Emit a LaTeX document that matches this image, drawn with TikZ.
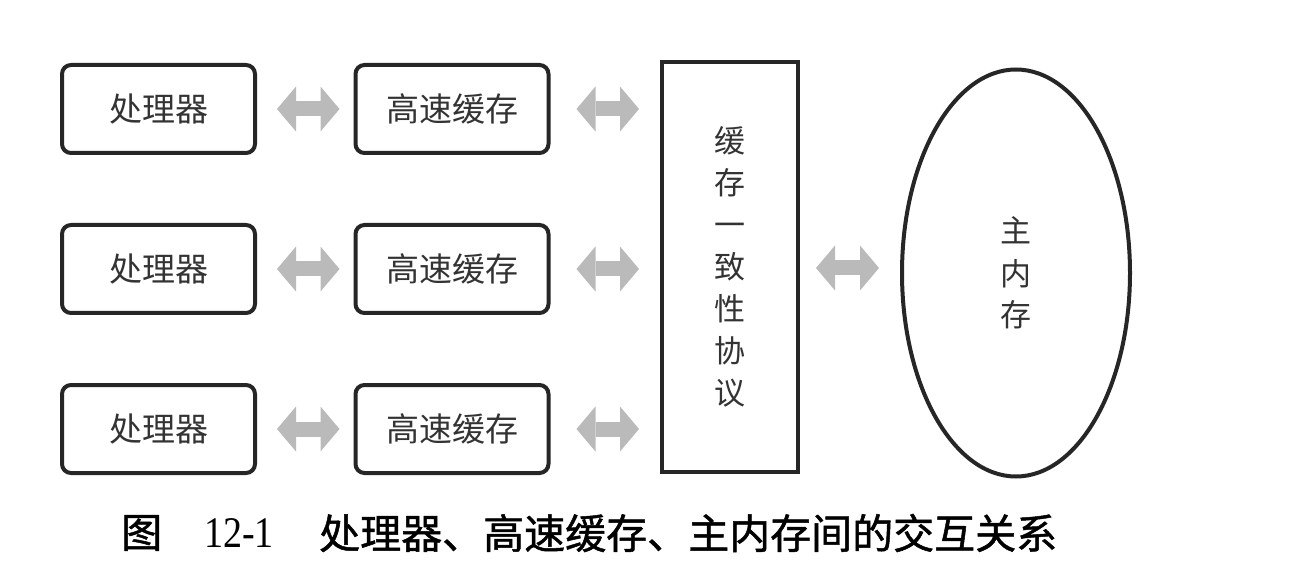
\documentclass[tikz,border=0pt]{standalone}
\usepackage{fontspec}
\usepackage{graphicx}
\setmainfont{Liberation Serif}
\newfontfamily\cjk{Noto Sans CJK SC}
\newfontfamily\cjkcap[FakeBold=1.2]{Noto Sans CJK SC}
\usetikzlibrary{shapes.geometric,arrows.meta}
\tikzset{
  box/.style={draw=black!85, line width=4pt, rounded corners=9pt, minimum width=193pt, minimum height=88pt, inner sep=0pt, font=\cjk\fontsize{33pt}{33pt}\selectfont, text=black!80},
  proto/.style={draw=black!85, line width=4pt, minimum width=136pt, minimum height=410pt, inner sep=0pt, align=center, font=\cjk\fontsize{31pt}{42pt}\selectfont, text=black!80},
  mem/.style={draw=black!85, line width=4pt, ellipse, minimum width=228pt, minimum height=407pt, inner sep=0pt, align=center, font=\cjk\fontsize{31pt}{41pt}\selectfont, text=black!80},
  dbl/.style={draw=black!27, line width=15pt, {Triangle[width=45pt,length=19pt,line width=0pt]}-{Triangle[width=45pt,length=19pt,line width=0pt]}},
  captext/.style={font=\cjkcap\fontsize{41pt}{41pt}\selectfont, inner sep=0pt}
}
\begin{document}
\begin{tikzpicture}[x=1pt,y=-1pt]
\useasboundingbox (0,0) rectangle (1304,569);
\foreach \i/\y in {1/109,2/269,3/429}{
  \node[box] (p\i) at (158.5,\y) {处理器};
  \node[box] (c\i) at (452,\y) {高速缓存};
}
\node[proto] (pr) at (730,267) {缓\\存\\一\\致\\性\\协\\议};
\node[mem] (mm) at (1016,273) {\raisebox{2pt}{主}\\内\\存};
\foreach \i in {1,2,3}{
  \draw[dbl, shorten <=20pt, shorten >=14pt] (p\i.east) -- (c\i.west);
  \draw[dbl, shorten <=26pt, shorten >=21pt] (c\i.east) -- (c\i.east -| pr.west);
}
\draw[dbl, shorten <=16pt, shorten >=21pt] (pr.east |- 0,268) -- (mm.west |- 0,268);
\node[captext, anchor=west] (t1) at (121,533) {图};
\node[font=\fontsize{38pt}{38pt}\selectfont, inner sep=0pt, anchor=west] (t2) at (204,533) {\scalebox{1}[1.15]{12-1}};
\node[captext, anchor=west] (t3) at (319,533) {处理器、高速缓存、主内存间的交互关系};
\end{tikzpicture}
\end{document}
